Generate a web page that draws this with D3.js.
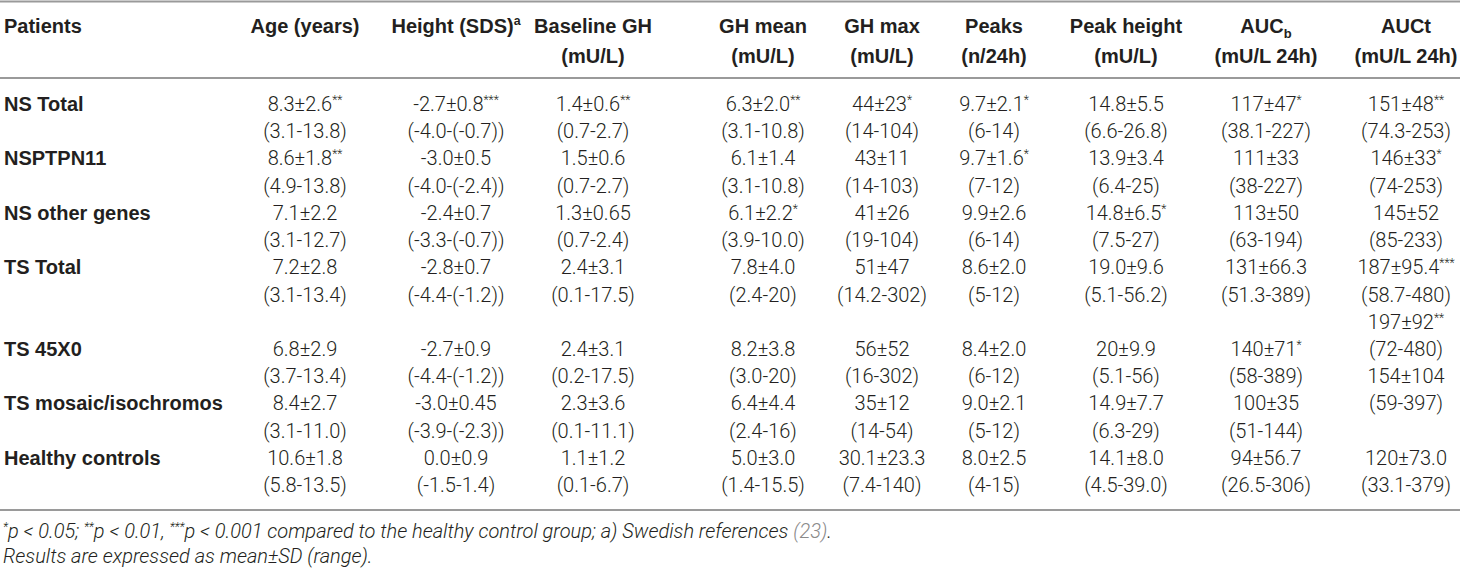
<!DOCTYPE html>
<html><head><meta charset="utf-8">
<script src="https://cdn.jsdelivr.net/npm/d3@7"></script>
<style>
html,body{margin:0;padding:0;background:#fff;}
svg{display:block;}
.hd{font-family:"Liberation Sans",Arial,sans-serif;font-weight:bold;font-size:20px;fill:#231f20;}
.bd{font-family:Roboto,"Liberation Sans",sans-serif;font-weight:300;font-size:20px;fill:#231f20;}
.fn{font-family:Roboto,"Liberation Sans",sans-serif;font-weight:300;font-style:italic;font-size:20px;fill:#231f20;}
</style></head>
<body>
<svg id="chart" width="1460" height="569"></svg>
<script>
// ---------- data ----------
const patients = ["NS Total","","NSPTPN11","","NS other genes","","TS Total","","","TS 45X0","","TS mosaic/isochromos","","Healthy controls",""];
const headerLine1 = ["Age (years)","Height (SDS)^a","Baseline GH","GH mean","GH max","Peaks","Peak height","AUC_b","AUCt"];
const headerLine2 = ["","","(mU/L)","(mU/L)","(mU/L)","(n/24h)","(mU/L)","(mU/L 24h)","(mU/L 24h)"];
const age = ["8.3±2.6**","(3.1-13.8)","8.6±1.8**","(4.9-13.8)","7.1±2.2","(3.1-12.7)","7.2±2.8","(3.1-13.4)","","6.8±2.9","(3.7-13.4)","8.4±2.7","(3.1-11.0)","10.6±1.8","(5.8-13.5)"];
const heightSDS = ["-2.7±0.8***","(-4.0-(-0.7))","-3.0±0.5","(-4.0-(-2.4))","-2.4±0.7","(-3.3-(-0.7))","-2.8±0.7","(-4.4-(-1.2))","","-2.7±0.9","(-4.4-(-1.2))","-3.0±0.45","(-3.9-(-2.3))","0.0±0.9","(-1.5-1.4)"];
const baselineGH = ["1.4±0.6**","(0.7-2.7)","1.5±0.6","(0.7-2.7)","1.3±0.65","(0.7-2.4)","2.4±3.1","(0.1-17.5)","","2.4±3.1","(0.2-17.5)","2.3±3.6","(0.1-11.1)","1.1±1.2","(0.1-6.7)"];
const ghMean = ["6.3±2.0**","(3.1-10.8)","6.1±1.4","(3.1-10.8)","6.1±2.2*","(3.9-10.0)","7.8±4.0","(2.4-20)","","8.2±3.8","(3.0-20)","6.4±4.4","(2.4-16)","5.0±3.0","(1.4-15.5)"];
const ghMax = ["44±23*","(14-104)","43±11","(14-103)","41±26","(19-104)","51±47","(14.2-302)","","56±52","(16-302)","35±12","(14-54)","30.1±23.3","(7.4-140)"];
const peaks = ["9.7±2.1*","(6-14)","9.7±1.6*","(7-12)","9.9±2.6","(6-14)","8.6±2.0","(5-12)","","8.4±2.0","(6-12)","9.0±2.1","(5-12)","8.0±2.5","(4-15)"];
const peakHeight = ["14.8±5.5","(6.6-26.8)","13.9±3.4","(6.4-25)","14.8±6.5*","(7.5-27)","19.0±9.6","(5.1-56.2)","","20±9.9","(5.1-56)","14.9±7.7","(6.3-29)","14.1±8.0","(4.5-39.0)"];
const aucB = ["117±47*","(38.1-227)","111±33","(38-227)","113±50","(63-194)","131±66.3","(51.3-389)","","140±71*","(58-389)","100±35","(51-144)","94±56.7","(26.5-306)"];
const aucT = ["151±48**","(74.3-253)","146±33*","(74-253)","145±52","(85-233)","187±95.4***","(58.7-480)","197±92**","(72-480)","154±104","(59-397)","","120±73.0","(33.1-379)"];
const footnote1 = "*p < 0.05; **p < 0.01, ***p < 0.001 compared to the healthy control group; a) Swedish references ";
const footnoteRef = "(23)";
const footnote2 = "Results are expressed as mean±SD (range).";

const columns = [age, heightSDS, baselineGH, ghMean, ghMax, peaks, peakHeight, aucB, aucT];

// ---------- layout ----------
const W = 1460, H = 569;
const colKeys = d3.range(columns.length);
const colCenters = [305, 456, 593, 763, 882, 994, 1126, 1266, 1406];
const x = d3.scaleOrdinal().domain(colKeys).range(colCenters);
const y = d3.scaleLinear().domain([0, patients.length - 1]).range([104, 485]);
const svg = d3.select("#chart");

function addRich(sel, str) {
  let m;
  if ((m = str.match(/^(.*)\^(.+)$/))) {
    sel.append("tspan").text(m[1]);
    sel.append("tspan").attr("dy", -8).attr("font-size", "0.62em").text(m[2]);
  } else if ((m = str.match(/^(.*)_(.+)$/))) {
    sel.append("tspan").text(m[1]);
    sel.append("tspan").attr("dy", 5).attr("font-size", "0.65em").text(m[2]);
  } else if ((m = str.match(/^(.*?)(\*+)$/))) {
    sel.append("tspan").text(m[1]);
    sel.append("tspan").attr("dy", -7).attr("font-size", "0.6em").text(m[2]);
  } else {
    sel.text(str);
  }
}

const rule = (yy) => svg.append("line").attr("x1", 0).attr("x2", W).attr("y1", yy).attr("y2", yy)
  .attr("stroke", "#9a9a9a").attr("stroke-width", 2);
rule(1.5); rule(78); rule(510);

// header
svg.append("text").attr("class", "hd").attr("x", 4).attr("y", 33).text("Patients");
colKeys.forEach(i => {
  svg.append("text").attr("class", "hd").attr("x", x(i)).attr("y", 33).attr("text-anchor", "middle")
    .call(s => addRich(s, headerLine1[i]));
  if (headerLine2[i]) svg.append("text").attr("class", "hd").attr("x", x(i)).attr("y", 63)
    .attr("text-anchor", "middle").text(headerLine2[i]);
});

// patients column
svg.append("g").selectAll("text").data(patients).join("text")
  .attr("class", "hd").attr("x", 4).attr("y", (d, i) => y(i) + 7).text(d => d);

// data columns
colKeys.forEach(c => {
  svg.append("g").selectAll("text").data(columns[c]).join("text")
    .attr("class", "bd").attr("x", x(c)).attr("y", (d, i) => y(i) + 7).attr("text-anchor", "middle")
    .each(function(d) { if (d) addRich(d3.select(this), d); });
});

// footnotes
const f1 = svg.append("text").attr("class", "fn").attr("x", 3).attr("y", 538);
footnote1.split(/(\*+)/).forEach(part => {
  if (!part) return;
  if (/^\*+$/.test(part)) f1.append("tspan").attr("font-size", "0.6em").attr("baseline-shift", "super").text(part);
  else f1.append("tspan").text(part);
});
f1.append("tspan").attr("fill", "#8a8a8a").text(footnoteRef);
f1.append("tspan").text(".");
svg.append("text").attr("class", "fn").attr("x", 3).attr("y", 563).text(footnote2);
</script>
</body></html>
